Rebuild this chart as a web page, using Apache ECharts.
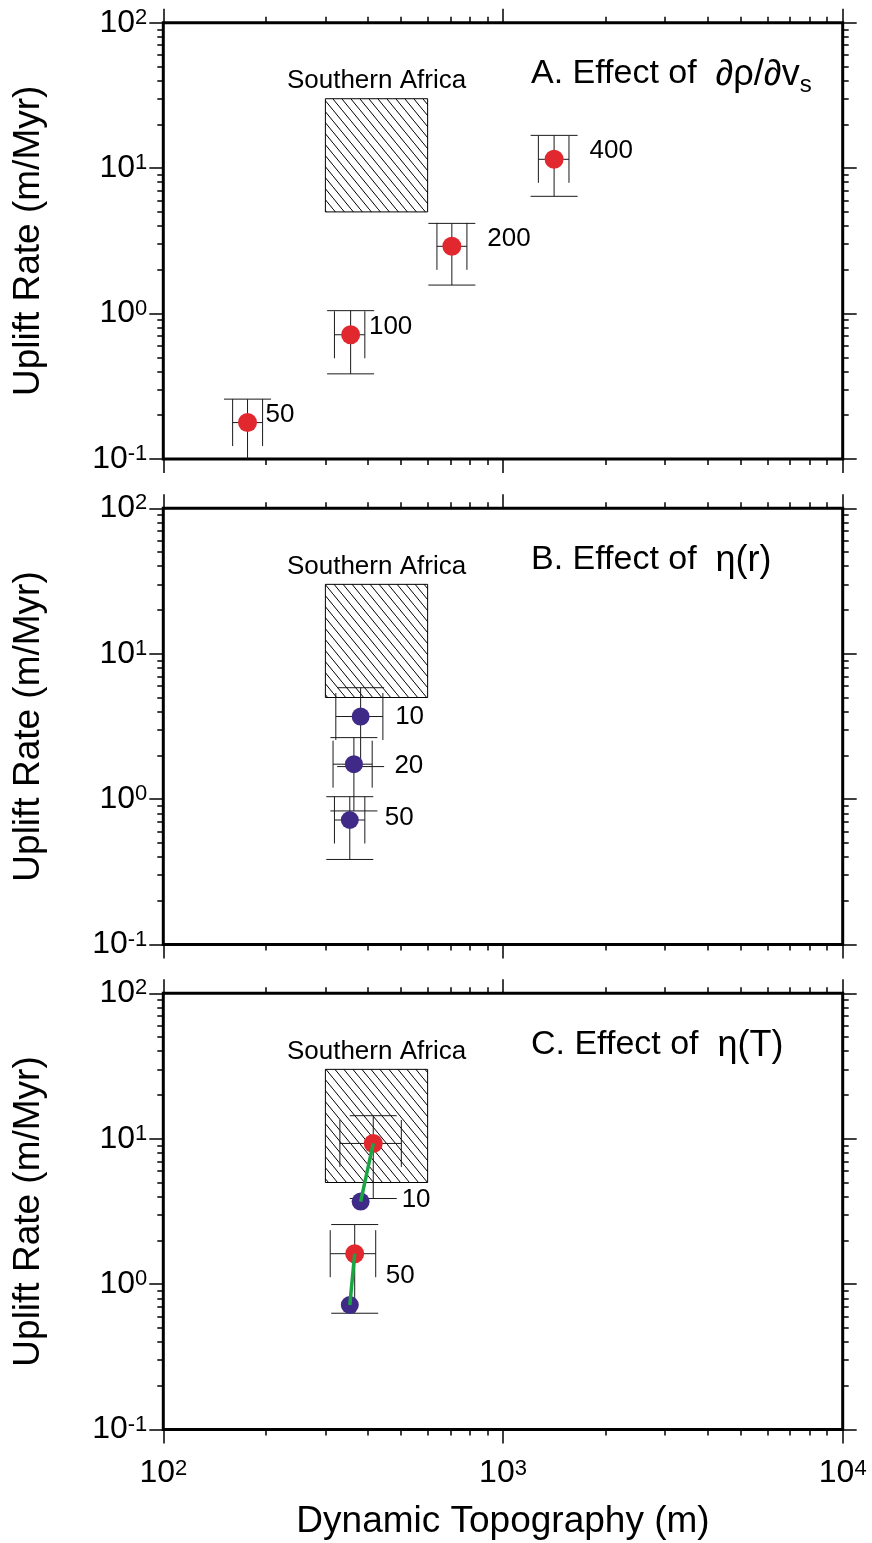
<!DOCTYPE html>
<html>
<head>
<meta charset="utf-8">
<script src="https://cdn.jsdelivr.net/npm/echarts@6/dist/echarts.min.js"></script>
<style>
html,body{margin:0;padding:0;background:#fff;}
#chart{width:872px;height:1543px;}
</style>
</head>
<body>
<div id="chart"></div>
<script>
// ---------------- data ----------------
const xMajorTicks = [100, 1000, 10000];
const yMajorTicks = [0.1, 1, 10, 100];
const minorMantissas = [2, 3, 4, 5, 6, 7, 8, 9];

const xAxisTitle = 'Dynamic Topography (m)';
const yAxisTitle = 'Uplift Rate (m/Myr)';
const panelTitles = ['{m|A. Effect of  }{g|∂ρ/∂v}{sub|s}', '{m|B. Effect of  }{g|η(r)}', '{m|C. Effect of  }{g|η(T)}'];

// Southern Africa observation box: [xmin, xmax, ymin, ymax]
const boxName = 'Southern Africa';
const boxRange = [300, 600, 5, 30];

// Panel A: effect of d(rho)/d(vs) (red)
const aNames = ['50', '100', '200', '400'];
const aX     = [177, 356, 707, 1414];
const aY     = [0.178, 0.715, 2.90, 11.5];
const aXlo   = [160, 319, 639, 1271];
const aXhi   = [196, 392, 783, 1564];
const aYlo   = [0.097, 0.385, 1.57, 6.4];
const aYhi   = [0.258, 1.047, 4.17, 16.8];

// Panel B: effect of eta(r) (purple)
const bNames = ['10', '20', '50'];
const bX     = [381, 364, 354];
const bY     = [3.70, 1.74, 0.719];
const bXlo   = [322, 316, 319];
const bXhi   = [443, 412, 392];
const bYlo   = [1.675, 0.83, 0.385];
const bYhi   = [5.84, 2.65, 1.04];

// Panel C: effect of eta(T): purple (no T) -> red (with T)
const cNames = ['10', '50'];
const cBlueX = [381, 354];
const cBlueY = [3.70, 0.719];
const cRedX  = [415, 366];
const cRedY  = [9.28, 1.62];
const cXlo   = [331, 310];
const cXhi   = [502, 422];
const cYlo   = [3.88, 0.631];
const cYhi   = [14.4, 2.57];

// ---------------- styles ----------------
const FONT = '"Liberation Sans", Arial, Helvetica, sans-serif';
const RED = '#e1282f', PURPLE = '#3f2b87', GREEN = '#1aa543';
const GRID_LEFT = 163.3, GRID_W = 679.4, GRID_H = 436.3;
const GRID_TOPS = [22.7, 508.3, 993.3];
const TITLE_TOPS = [57, 542.6, 1027.6];

const xMinorTicks = [100, 1000].flatMap(d => minorMantissas.map(m => m * d));
const yMinorTicks = [0.1, 1, 10].flatMap(d => minorMantissas.map(m => +(m * d).toPrecision(3)));

// hatch pattern
const hatch = document.createElement('canvas');
hatch.width = 9; hatch.height = 11;
(function () {
  const ctx = hatch.getContext('2d');
  ctx.strokeStyle = '#000';
  ctx.lineWidth = 1;
  ctx.beginPath();
  ctx.moveTo(-1, -11 / 9);
  ctx.lineTo(10, 11 + 11 / 9);
  ctx.stroke();
})();

const tickRich = {
  b: {fontSize: 32, fontFamily: FONT, color: '#000', fontWeight: 'normal'},
  s: {fontSize: 22, fontFamily: FONT, color: '#000', fontWeight: 'normal', verticalAlign: 'top', lineHeight: 12}
};
const tickFmt = v => '{b|10}{s|' + Math.round(Math.log10(v)) + '}';

function logAxis(dim, g, pos, ticks, len, extra) {
  const isX = dim === 'x';
  return Object.assign({
    type: 'log', logBase: 10, gridIndex: g, position: pos,
    min: isX ? 100 : 0.1, max: isX ? 10000 : 100,
    axisLine: {show: false},
    splitLine: {show: false},
    minorTick: {show: false},
    minorSplitLine: {show: false},
    axisTick: {show: true, inside: false, length: len, customValues: ticks,
      lineStyle: {color: '#000', width: 1.5}},
    axisLabel: {show: false},
    silent: true
  }, extra || {});
}

const grids = [], xAxes = [], yAxes = [], series = [], titles = [];

function errData(X, Y, XL, XH, YL, YH) {
  return X.map((x, i) => [x, Y[i], XL[i], XH[i], YL[i], YH[i]]);
}

function renderErr(params, api) {
  const x = api.value(0), y = api.value(1);
  const p = api.coord([x, y]);
  const xl = api.coord([api.value(2), y])[0];
  const xh = api.coord([api.value(3), y])[0];
  const yl = api.coord([x, api.value(4)])[1];
  const yh = api.coord([x, api.value(5)])[1];
  const c = 23.5;
  const st = {stroke: '#1a1a1a', lineWidth: 1};
  const L = (x1, y1, x2, y2) => ({type: 'line', shape: {x1, y1, x2, y2}, style: st});
  const cs = params.coordSys;
  return {
    type: 'group',
    clipPath: {type: 'rect', shape: {x: cs.x, y: cs.y, width: cs.width, height: cs.height}},
    children: [
      L(xl, p[1], xh, p[1]), L(xl, p[1] - c, xl, p[1] + c), L(xh, p[1] - c, xh, p[1] + c),
      L(p[0], yh, p[0], yl), L(p[0] - c, yh, p[0] + c, yh), L(p[0] - c, yl, p[0] + c, yl)
    ]
  };
}

function renderBox(params, api) {
  const p0 = api.coord([api.value(0), api.value(3)]);
  const p1 = api.coord([api.value(1), api.value(2)]);
  return {
    type: 'rect',
    shape: {x: p0[0], y: p0[1], width: p1[0] - p0[0], height: p1[1] - p0[1]},
    style: {fill: {image: hatch, repeat: 'repeat'}, stroke: '#000', lineWidth: 1},
    textContent: {style: {text: boxName, fontSize: 26, fontFamily: FONT, fill: '#000'}},
    textConfig: {position: 'top', distance: 4}
  };
}

const ptLabel = {show: true, position: 'right', distance: 0, formatter: '{b}',
  fontSize: 26, fontFamily: FONT, color: '#000'};

function scatterData(names, X, Y, offsets) {
  return X.map((x, i) => ({name: names[i], value: [x, Y[i]],
    label: offsets[i] ? {offset: offsets[i]} : {show: false}}));
}

for (let g = 0; g < 3; g++) {
  grids.push({left: GRID_LEFT, top: GRID_TOPS[g], width: GRID_W, height: GRID_H,
    show: true, borderColor: '#000', borderWidth: 3, backgroundColor: 'transparent',
    containLabel: false, outerBoundsMode: 'none'});

  const last = g === 2;
  xAxes.push(logAxis('x', g, 'bottom', xMajorTicks, 14, last ? {
    axisLabel: {show: true, customValues: xMajorTicks, margin: 28, formatter: tickFmt, rich: tickRich},
    name: xAxisTitle, nameLocation: 'middle', nameGap: 74,
    nameTextStyle: {fontSize: 37, fontFamily: FONT, color: '#000'}
  } : null));
  xAxes.push(logAxis('x', g, 'bottom', xMinorTicks, 6));
  xAxes.push(logAxis('x', g, 'top', xMajorTicks, 14));
  xAxes.push(logAxis('x', g, 'top', xMinorTicks, 6));

  yAxes.push(logAxis('y', g, 'left', yMajorTicks, 14, {
    axisLabel: {show: true, customValues: yMajorTicks, margin: 16, formatter: tickFmt, rich: tickRich},
    name: yAxisTitle, nameLocation: 'middle', nameGap: 116, nameRotate: 90,
    nameTextStyle: {fontSize: 37, fontFamily: FONT, color: '#000'}
  }));
  yAxes.push(logAxis('y', g, 'left', yMinorTicks, 6));
  yAxes.push(logAxis('y', g, 'right', yMajorTicks, 14));
  yAxes.push(logAxis('y', g, 'right', yMinorTicks, 6));

  titles.push({text: panelTitles[g], left: 531, top: TITLE_TOPS[g], padding: 0,
    textStyle: {fontWeight: 'normal', rich: {
      m: {fontSize: 34, fontFamily: FONT, color: '#000', fontWeight: 'normal', lineHeight: 40, verticalAlign: 'top'},
      g: {fontSize: 36, fontFamily: FONT, color: '#000', fontWeight: 'normal', lineHeight: 40, verticalAlign: 'top'},
      sub: {fontSize: 24, fontFamily: FONT, color: '#000', fontWeight: 'normal', lineHeight: 16, verticalAlign: 'bottom'}
    }}});

  series.push({type: 'custom', xAxisIndex: g * 4, yAxisIndex: g * 4, silent: true, z: 1,
    renderItem: renderBox, encode: {x: [0, 1], y: [2, 3]}, data: [boxRange]});
}

// Panel A
series.push({type: 'custom', xAxisIndex: 0, yAxisIndex: 0, z: 2, silent: true,
  renderItem: renderErr, encode: {x: 0, y: 1}, data: errData(aX, aY, aXlo, aXhi, aYlo, aYhi)});
series.push({type: 'scatter', xAxisIndex: 0, yAxisIndex: 0, z: 3, symbolSize: 19,
  itemStyle: {color: RED, opacity: 1}, label: ptLabel,
  data: scatterData(aNames, aX, aY, [[8.5, -8], [8.8, -8], [26, -7], [26, -8]])});

// Panel B
series.push({type: 'custom', xAxisIndex: 4, yAxisIndex: 4, z: 2, silent: true,
  renderItem: renderErr, encode: {x: 0, y: 1}, data: errData(bX, bY, bXlo, bXhi, bYlo, bYhi)});
series.push({type: 'scatter', xAxisIndex: 4, yAxisIndex: 4, z: 3, symbolSize: 18,
  itemStyle: {color: PURPLE, opacity: 1}, label: ptLabel,
  data: scatterData(bNames, bX, bY, [[25.5, 0], [31.5, 2], [26, -2]])});

// Panel C
series.push({type: 'custom', xAxisIndex: 8, yAxisIndex: 8, z: 2, silent: true,
  renderItem: renderErr, encode: {x: 0, y: 1}, data: errData(cRedX, cRedY, cXlo, cXhi, cYlo, cYhi)});
series.push({type: 'scatter', xAxisIndex: 8, yAxisIndex: 8, z: 3, symbolSize: 18,
  itemStyle: {color: PURPLE, opacity: 1}, label: ptLabel,
  data: scatterData(cNames, cBlueX, cBlueY, [[32, -2], null])});
series.push({type: 'scatter', xAxisIndex: 8, yAxisIndex: 8, z: 3, symbolSize: 19,
  itemStyle: {color: RED, opacity: 1}, label: ptLabel,
  data: scatterData(cNames, cRedX, cRedY, [null, [21.5, 22]])});
cNames.forEach((n, i) => {
  series.push({type: 'line', xAxisIndex: 8, yAxisIndex: 8, z: 4, silent: true,
    symbol: 'none', lineStyle: {color: GREEN, width: 3.5},
    data: [[cRedX[i], cRedY[i]], [cBlueX[i], cBlueY[i]]]});
});

const chart = echarts.init(document.getElementById('chart'), null, {renderer: 'canvas'});
chart.setOption({
  animation: false,
  backgroundColor: '#fff',
  title: titles,
  grid: grids,
  xAxis: xAxes,
  yAxis: yAxes,
  series: series
});
</script>
</body>
</html>
